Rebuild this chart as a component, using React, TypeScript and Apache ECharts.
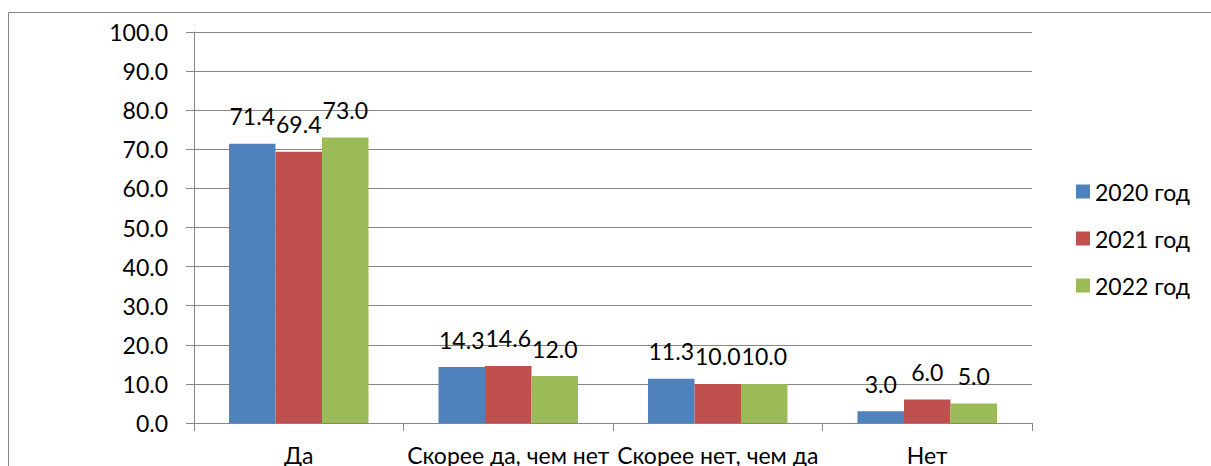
import React, { useEffect, useRef } from "react";
import * as echarts from "echarts";

const categories = ["Да", "Скорее да, чем нет", "Скорее нет, чем да", "Нет"];
const seriesNames = ["2020 год", "2021 год", "2022 год"];
const values2020 = [71.4, 14.3, 11.3, 3.0];
const values2021 = [69.4, 14.6, 10.0, 6.0];
const values2022 = [73.0, 12.0, 10.0, 5.0];
const colors = ["#4F81BD", "#C0504D", "#9BBB59"];

const FONT = "Lato, 'Open Sans', sans-serif";
const FS = 23;

export default function App() {
  const ref = useRef<HTMLDivElement>(null);
  useEffect(() => {
    if (!ref.current) return;
    const chart = echarts.init(ref.current, undefined, { renderer: "svg" });
    const data = [values2020, values2021, values2022];
    chart.setOption({
      animation: false,
      textStyle: { fontFamily: FONT },
      grid: { left: 194, top: 32, right: 179, bottom: 43, containLabel: false },
      graphic: [
        {
          type: "rect",
          shape: { x: 8.5, y: 12.5, width: 1400, height: 800 },
          style: { fill: "none", stroke: "#888888", lineWidth: 1 },
          silent: true,
        },
      ],
      legend: {
        orient: "vertical",
        left: 1076,
        top: 180,
        padding: 0,
        itemWidth: 14,
        itemHeight: 14,
        itemGap: 24,
        icon: "rect",
        textStyle: { fontFamily: FONT, fontSize: FS, color: "#000" },
        data: seriesNames,
      },
      xAxis: {
        type: "category",
        data: categories,
        axisLine: { lineStyle: { color: "#868686", width: 1 } },
        axisTick: { show: true, length: 8, lineStyle: { color: "#868686" } },
        axisLabel: {
          fontFamily: FONT,
          fontSize: FS,
          color: "#000",
          margin: 20,
          interval: 0,
        },
      },
      yAxis: {
        type: "value",
        min: 0,
        max: 100,
        interval: 10,
        axisLine: { show: true, lineStyle: { color: "#868686", width: 1 } },
        axisTick: { show: true, length: 8, lineStyle: { color: "#868686" } },
        splitLine: { show: true, lineStyle: { color: "#868686", width: 1 } },
        axisLabel: {
          fontFamily: FONT,
          fontSize: FS,
          color: "#000",
          margin: 26,
          formatter: (v: number) => v.toFixed(1),
        },
      },
      series: seriesNames.map((name, i) => ({
        name,
        type: "bar",
        data: data[i],
        barGap: "0%",
        barCategoryGap: "33.4%",
        itemStyle: { color: colors[i] },
        label: {
          show: true,
          position: "top",
          distance: 16,
          fontFamily: FONT,
          fontSize: FS,
          color: "#000",
          formatter: (p: any) => Number(p.value).toFixed(1),
        },
      })),
    });
    return () => chart.dispose();
  }, []);
  return (
    <div
      ref={ref}
      style={{ position: "fixed", left: 0, top: 0, width: 1211, height: 466, background: "#fff" }}
    />
  );
}
